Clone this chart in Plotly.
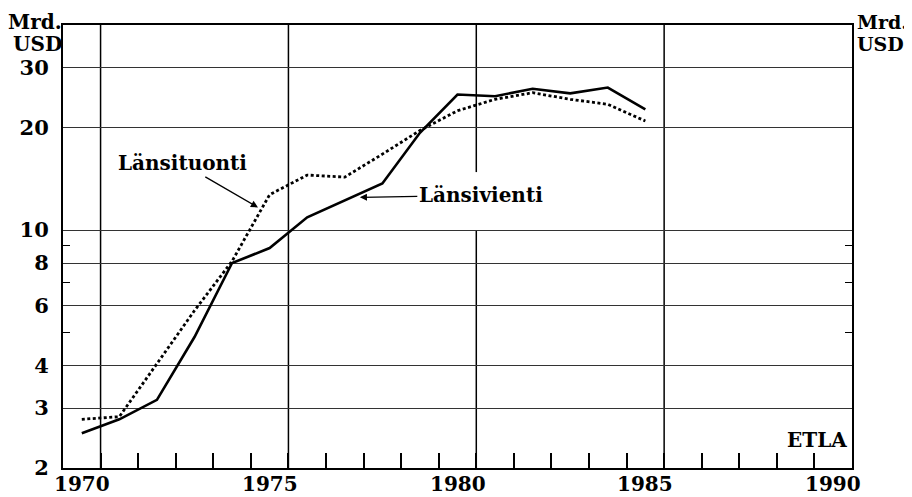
import math
import plotly.graph_objects as go

# ---- data (Mrd. USD) ----
years = list(range(1970, 1986))
lansivienti = [2.53, 2.78, 3.17, 4.85, 8.0, 8.85, 10.9, 12.2, 13.7, 19.3, 25.0, 24.7, 26.0, 25.2, 26.2, 22.6]
lansituonti = [2.78, 2.83, 4.05, 5.8, 8.1, 12.7, 14.5, 14.3, 16.7, 19.6, 22.4, 24.2, 25.3, 24.2, 23.4, 20.9]

x_ticks = [1970, 1975, 1980, 1985, 1990]
x_ticktext = ["1970", "1975", "1980", "1985", "1990"]
y_ticks = [2, 3, 4, 6, 8, 10, 20, 30]
y_ticktext = ["2", "3", "4", "6", "8", "10", "20", "30"]
y_minor = [5, 7, 9]

FONT = "DejaVu Serif"
TICKFONT = dict(family=FONT, size=21, color="black", weight="bold")
XTICKFONT = dict(family=FONT, size=20, color="black", weight="bold")

fig = go.Figure()
fig.add_trace(go.Scatter(x=years, y=lansivienti, mode="lines", name="Länsivienti",
                         line=dict(color="black", width=2.6)))
fig.add_trace(go.Scatter(x=years, y=lansituonti, mode="lines", name="Länsituonti",
                         line=dict(color="black", width=2.8, dash="3px,2.5px")))

yrange = [math.log10(2), math.log10(40)]

# page body has an 8px margin: figure is placed at (8, 8)
fig.update_layout(
    width=904, height=496,
    margin=dict(l=55, r=60, t=17, b=36, autoexpand=False),
    paper_bgcolor="white", plot_bgcolor="white",
    showlegend=False,
    xaxis=dict(
        range=[1969.5, 1990.5], tickvals=x_ticks, showticklabels=False,
        ticks="", showgrid=False, zeroline=False, automargin=False,
        showline=True, mirror=True, linecolor="black", linewidth=2,
        minor=dict(tickvals=[y + 0.5 for y in range(1970, 1990)], ticks="inside",
                   ticklen=15, tickwidth=1.5, tickcolor="black", showgrid=False),
    ),
    yaxis=dict(
        type="log", range=yrange, tickvals=y_ticks, ticktext=y_ticktext,
        ticks="", showgrid=True, gridcolor="#333333", gridwidth=1, zeroline=False,
        showline=True, mirror="allticks", linecolor="black", linewidth=2, automargin=False,
        tickfont=TICKFONT, ticklabelstandoff=8,
        minor=dict(tickvals=y_minor, ticks="inside", ticklen=7, tickwidth=1.2,
                   tickcolor="black", showgrid=False),
    ),
    yaxis2=dict(
        type="log", range=yrange, tickvals=y_ticks, ticktext=y_ticktext,
        overlaying="y", side="right", matches="y", automargin=False,
        ticks="", showgrid=False, zeroline=False, showline=False,
        tickfont=TICKFONT, ticklabelstandoff=8,
        minor=dict(tickvals=y_minor, ticks="inside", ticklen=7, tickwidth=1.2,
                   tickcolor="black", showgrid=False),
    ),
)

# vertical 5-year grid lines (year boundaries)
shapes = []
for xv in [1970.5, 1975.5, 1985.5]:
    shapes.append(dict(type="line", xref="x", yref="paper", x0=xv, x1=xv, y0=0, y1=1,
                       line=dict(color="black", width=1.5), layer="below"))
# 1980 line interrupted around the label
shapes.append(dict(type="line", xref="x", yref="paper", x0=1980.5, x1=1980.5, y0=0.668, y1=1,
                   line=dict(color="black", width=1.5), layer="below"))
shapes.append(dict(type="line", xref="x", yref="paper", x0=1980.5, x1=1980.5, y0=0, y1=0.537,
                   line=dict(color="black", width=1.5), layer="below"))
fig.update_layout(shapes=shapes)

LBL = dict(family=FONT, size=20, color="black", weight="bold")
ann = []
# x-axis year labels
for xv, txt in zip(x_ticks, x_ticktext):
    ann.append(dict(x=xv, y=0, xref="x", yref="paper", text=txt, showarrow=False,
                    xanchor="center", yanchor="middle", yshift=-16, borderpad=0,
                    font=XTICKFONT))
ann.append(dict(x=1974.69, y=math.log10(11.65), xref="x", yref="y", text="Länsituonti",
                showarrow=True, ax=-76, ay=-44, arrowhead=2, arrowsize=1.1, arrowwidth=1.3,
                arrowcolor="black", font=LBL))
ann.append(dict(x=1977.40, y=math.log10(12.47), xref="x", yref="y", text="Länsivienti",
                showarrow=True, ax=121, ay=-2, arrowhead=2, arrowsize=1.1, arrowwidth=1.3,
                arrowcolor="black", font=LBL))
ann.append(dict(x=1, y=(468 - 440) / 443, xref="paper", yref="paper", text="ETLA",
                xanchor="right", yanchor="middle", xshift=-3, showarrow=False, font=LBL))
UNIT_L = dict(family=FONT, size=20, color="black", weight="bold")
UNIT_R = dict(family=FONT, size=19, color="black", weight="bold")
for side_x, anchor, shift, fnt in [(0, "right", 0, UNIT_L), (1, "left", 4, UNIT_R)]:
    ann.append(dict(x=side_x, y=(468 - 22) / 443, xref="paper", yref="paper", text="Mrd.",
                    xanchor=anchor, yanchor="middle", xshift=shift, showarrow=False, font=fnt,
                    borderpad=0))
    ann.append(dict(x=side_x, y=(468 - 44) / 443, xref="paper", yref="paper", text="USD",
                    xanchor=anchor, yanchor="middle", xshift=shift, showarrow=False, font=fnt,
                    borderpad=0))
fig.update_layout(annotations=ann)

fig.write_html("out.html")
